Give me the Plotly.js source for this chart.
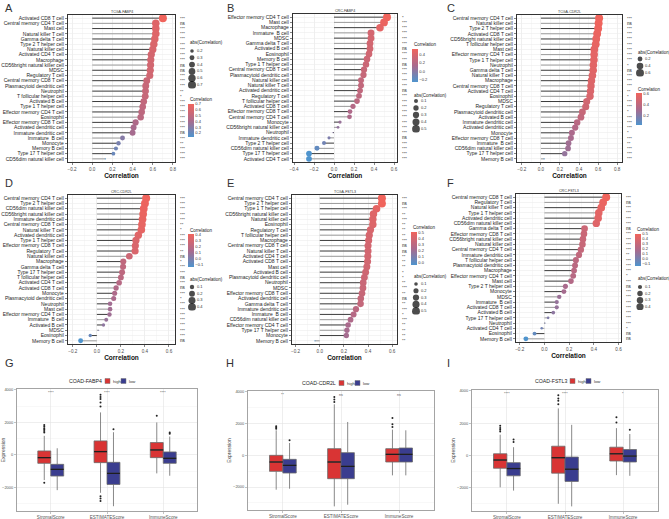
<!DOCTYPE html>
<html>
<head>
<meta charset="utf-8">
<script src="https://cdn.plot.ly/plotly-3.0.1.min.js"></script>
<style>
html,body{margin:0;padding:0;background:#fff;}
#chart{width:669px;height:519px;}
</style>
</head>
<body>
<div id="chart"></div>
<script>
// ---------- Immune-cell correlation data (lollipop panels) ----------
const aCells = ["Activated CD8 T cell","Central memory CD4 T cell","Mast cell","Natural killer T cell","Gamma delta T cell","Type 2 T helper cell","Natural killer cell","Activated CD4 T cell","Macrophage","CD56bright natural killer cell","MDSC","Regulatory T cell","Central memory CD8 T cell","Plasmacytoid dendritic cell","Neutrophil","T follicular helper cell","Activated B cell","Type 1 T helper cell","Effector memory CD4 T cell","Eosinophil","Effector memory CD8 T cell","Activated dendritic cell","Immature dendritic cell","Immature  B cell","Monocyte","Memory B cell","Type 17 T helper cell","CD56dim natural killer cell"];
const aCor = [0.70,0.63,0.63,0.63,0.62,0.61,0.60,0.585,0.58,0.578,0.575,0.57,0.54,0.53,0.528,0.525,0.51,0.50,0.49,0.48,0.43,0.41,0.40,0.30,0.26,0.235,0.21,0.13];
const aSig = ["***","ns","***","***","***","***","***","***","***","ns","ns","***","***","***","**","*","***","***","***","***","***","***","ns","***","**","***","***","***"];

const bCells = ["Effector memory CD4 T cell","Mast cell","Macrophage","Immature  B cell","MDSC","Gamma delta T cell","Activated B cell","Eosinophil","Memory B cell","Type 1 T helper cell","Central memory CD8 T cell","Plasmacytoid dendritic cell","Natural killer cell","Natural killer T cell","Activated dendritic cell","Regulatory T cell","T follicular helper cell","Activated CD8 T cell","Effector memory CD8 T cell","Central memory CD4 T cell","Monocyte","CD56bright natural killer cell","Neutrophil","Immature dendritic cell","Type 2 T helper cell","CD56dim natural killer cell","Type 17 T helper cell","Activated CD4 T cell"];
const bCor = [0.53,0.50,0.46,0.37,0.37,0.36,0.36,0.35,0.33,0.32,0.30,0.295,0.27,0.27,0.26,0.25,0.23,0.19,0.16,0.155,0.06,0.04,-0.01,-0.05,-0.10,-0.17,-0.25,-0.25];
const bSig = ["*","***","***","***","***","***","ns","***","***","ns","***","***","***","***","ns","***","***","***","***","***","***","***","***","ns","***","***","***","***"];

const cCells = ["Central memory CD4 T cell","Natural killer cell","Type 2 T helper cell","Activated CD8 T cell","CD56bright natural killer cell","T follicular helper cell","Mast cell","Effector memory CD4 T cell","Type 1 T helper cell","Neutrophil","Gamma delta T cell","Natural killer T cell","Macrophage","Central memory CD8 T cell","Activated CD4 T cell","Eosinophil","MDSC","Regulatory T cell","Plasmacytoid dendritic cell","Activated B cell","Immature dendritic cell","Activated dendritic cell","Monocyte","Effector memory CD8 T cell","Immature  B cell","CD56dim natural killer cell","Type 17 T helper cell","Memory B cell"];
const cCor = [0.61,0.605,0.60,0.59,0.58,0.575,0.56,0.558,0.556,0.55,0.548,0.54,0.53,0.525,0.52,0.515,0.48,0.47,0.435,0.42,0.38,0.36,0.325,0.315,0.29,0.285,0.25,0.035];
const cSig = ["***","ns","***","***","***","***","***","***","***","*","ns","***","***","***","**","*","***","***","*","***","***","***","*","***","**","***","***","***"];

const dCells = ["Central memory CD4 T cell","Type 2 T helper cell","CD56dim natural killer cell","CD56bright natural killer cell","Immature dendritic cell","Central memory CD8 T cell","Natural killer T cell","Activated dendritic cell","Type 1 T helper cell","Effector memory CD8 T cell","Regulatory T cell","Natural killer cell","Macrophage","Gamma delta T cell","Type 17 T helper cell","T follicular helper cell","Activated CD4 T cell","Activated CD8 T cell","Monocyte","Plasmacytoid dendritic cell","Neutrophil","Mast cell","Effector memory CD4 T cell","Immature  B cell","Activated B cell","MDSC","Eosinophil","Memory B cell"];
const dCor = [0.41,0.40,0.39,0.385,0.38,0.375,0.37,0.345,0.325,0.32,0.318,0.27,0.22,0.218,0.21,0.20,0.185,0.16,0.148,0.14,0.11,0.11,0.105,0.078,0.055,0.015,-0.055,-0.135];
const dSig = ["***","***","***","***","***","**","*","***","***","***","**","ns","*","***","***","ns","***","ns","***","*","***","***","***","***","***","***","***","ns"];

const eCells = ["Central memory CD4 T cell","Type 2 T helper cell","Type 1 T helper cell","CD56bright natural killer cell","Natural killer cell","Eosinophil","Regulatory T cell","T follicular helper cell","Macrophage","Central memory CD8 T cell","Natural killer T cell","Activated CD4 T cell","Activated CD8 T cell","Mast cell","Activated B cell","Plasmacytoid dendritic cell","Neutrophil","MDSC","Effector memory CD8 T cell","Activated dendritic cell","Gamma delta T cell","Immature dendritic cell","Immature  B cell","CD56dim natural killer cell","Effector memory CD4 T cell","Type 17 T helper cell","Monocyte","Memory B cell"];
const eCor = [0.515,0.515,0.47,0.445,0.44,0.44,0.42,0.41,0.405,0.40,0.40,0.398,0.396,0.39,0.38,0.37,0.36,0.358,0.35,0.34,0.338,0.30,0.28,0.255,0.235,0.225,0.22,-0.04];
const eSig = ["***","ns","***","**","***","**","**","**","***","ns","ns","**","**","**","*","*","**","***","**","ns","**","***","*","***","**","**","**","**"];

const fCells = ["Central memory CD8 T cell","Regulatory T cell","Natural killer T cell","Type 1 T helper cell","Activated dendritic cell","CD56dim natural killer cell","Gamma delta T cell","Effector memory CD8 T cell","CD56bright natural killer cell","Natural killer cell","Central memory CD4 T cell","Immature dendritic cell","T follicular helper cell","Plasmacytoid dendritic cell","Macrophage","Effector memory CD4 T cell","Mast cell","Type 2 T helper cell","Monocyte","MDSC","Immature  B cell","Activated CD8 T cell","Activated B cell","Type 17 T helper cell","Neutrophil","Activated CD4 T cell","Eosinophil","Memory B cell"];
const fCor = [0.50,0.475,0.46,0.44,0.435,0.42,0.325,0.32,0.312,0.308,0.295,0.28,0.255,0.248,0.24,0.233,0.215,0.17,0.158,0.12,0.10,0.10,0.072,0.03,0.005,-0.022,-0.08,-0.15];
const fSig = ["***","ns","***","***","***","***","ns","***","***","***","***","**","***","***","***","*","***","ns","***","***","***","***","***","***","***","*","ns","ns"];

// size-legend breaks for abs(Correlation)
const aSizeBreaks = [0.2,0.3,0.4,0.5,0.6,0.7];
const bSizeBreaks = [0.1,0.2,0.3,0.4,0.5];
const cSizeBreaks = [0.2,0.4,0.6];
const dSizeBreaks = [0.1,0.2,0.3,0.4];
const eSizeBreaks = [0.1,0.2,0.3,0.4,0.5];
const fSizeBreaks = [0.1,0.2,0.3,0.4];

// ---------- ESTIMATE score boxplots (high vs low expression) ----------
const scoreNames = ["StromalScore","ESTIMATEScore","ImmuneScore"];
// FABP4
const gHigh = {q1:[-515,-474,-165], med:[-165,206,309], q3:[247,866,763], lo:[-1546,-2330,-1134], hi:[1175,2619,2000]};
const gLow  = {q1:[-1300,-1815,-515], med:[-887,-1134,-206], q3:[-577,-454,186], lo:[-2165,-3155,-1278], hi:[412,1400,1134]};
const gHighOut = [[1380,1480,1560,1650,1750,1850,-1710],[2990,3230,3440,3570,3710,-2540,-2680,-2830],[2410]];
const gLowOut  = [[],[1590],[1300,1380]];
const gSig = ["****","****","****"];
// CDR2L
const hHigh = {q1:[-1010,-1474,-421], med:[-421,-421,63], q3:[0,421,421], lo:[-2168,-3221,-1263], hi:[1579,3221,1621]};
const hLow  = {q1:[-1116,-1474,-421], med:[-632,-695,63], q3:[-253,168,463], lo:[-2105,-3116,-1263], hi:[779,2105,1579]};
const hHighOut = [[1680,1760,1830],[3370,3520,3680],[1790,1960,2360]];
const hLowOut  = [[950],[],[]];
const hSig = ["**","ns","ns"];
// FSTL3
const iHigh = {q1:[-796,-1102,-347], med:[-286,-143,102], q3:[102,571,510], lo:[-1980,-3000,-1224], hi:[1286,2918,1694]};
const iLow  = {q1:[-1265,-1612,-408], med:[-816,-857,-41], q3:[-449,-102,367], lo:[-2184,-3163,-1265], hi:[510,1898,1327]};
const iHighOut = [[1490,1600,1700,1840],[3180,3390,3530,3740],[2040,2370]];
const iLowOut  = [[840,980],[],[1590]];
const iSig = ["****","****","*"];

// ---------- drawing ----------
const W = 669, H = 519;
const fx = p => p / W;
const fy = p => 1 - p / H;
const FONT = "Liberation Sans, Arial, sans-serif";
const corScale = [[0,'#4f94cd'],[0.5,'#ab6a8c'],[1,'#f0645c']];

const lolli = [
  {letter:'A', lx:7,   ly:8,   title:'TCGA-FABP4', cells:aCells, cor:aCor, sig:aSig, breaks:aSizeBreaks,
   box:[68,175,15,162], range:[-0.24,0.82], cb:{left:188,top:104,len:33,dtick:0.1,titleY:100}, sl:{x:192,titleY:43,first:51,step:6.8}},
  {letter:'B', lx:229, ly:8,   title:'CRC-FABP4', cells:bCells, cor:bCor, sig:bSig, breaks:bSizeBreaks,
   box:[293,397,14,162], range:[-0.41,0.63], cb:{left:412,top:49,len:33,dtick:0.2,titleY:44}, sl:{x:416,titleY:95,first:101,step:7}},
  {letter:'C', lx:449, ly:8,   title:'TCGA-CDR2L', cells:cCells, cor:cCor, sig:cSig, breaks:cSizeBreaks,
   box:[517,622,15,162], range:[-0.25,0.85], cb:{left:636,top:93,len:32,dtick:0.2,titleY:89}, sl:{x:640,titleY:52,first:59,step:7}},
  {letter:'D', lx:7,   ly:183, title:'CRC-CDR2L', cells:dCells, cor:dCor, sig:dSig, breaks:dSizeBreaks,
   box:[68,175,195,344], range:[-0.24,0.65], cb:{left:188,top:234,len:33,dtick:0.1,titleY:230}, sl:{x:192,titleY:279,first:287,step:6.7}},
  {letter:'E', lx:229, ly:183, title:'TCGA-FSTL3', cells:eCells, cor:eCor, sig:eSig, breaks:eSizeBreaks,
   box:[292,397,195,344], range:[-0.23,0.64], cb:{left:411,top:232,len:33,dtick:0.1,titleY:227}, sl:{x:416,titleY:276,first:284,step:6.8}},
  {letter:'F', lx:449, ly:183, title:'CRC-FSTL3', cells:fCells, cor:fCor, sig:fSig, breaks:fSizeBreaks,
   box:[516,621,194,342], range:[-0.23,0.62], cb:{left:635,top:234,len:32,dtick:0.1,titleY:229}, sl:{x:640,titleY:278,first:287,step:6.6}}
];

const boxes = [
  {letter:'G', lx:7,   ly:363, gene:'COAD-FABP4', high:gHigh, low:gLow, highOut:gHighOut, lowOut:gLowOut, sig:gSig,
   box:[17,197,389,511], legend:{key:105,y:381}},
  {letter:'H', lx:228, ly:363, gene:'COAD-CDR2L', high:hHigh, low:hLow, highOut:hHighOut, lowOut:hLowOut, sig:hSig,
   box:[248,434,391,510], legend:{key:339,y:383}},
  {letter:'I', lx:449, ly:363, gene:'COAD-FSTL3', high:iHigh, low:iLow, highOut:iHighOut, lowOut:iLowOut, sig:iSig,
   box:[472,658,390,511], legend:{key:570,y:381}}
];

const traces = [];
const layout = {
  width: W, height: H,
  margin: {l:0, r:0, t:0, b:0},
  paper_bgcolor: '#fff', plot_bgcolor: '#fff',
  font: {family: FONT, color: '#222'},
  showlegend: false,
  annotations: [], shapes: []
};

const axName = (kind, n) => kind + 'axis' + (n === 1 ? '' : n);
const axRef  = (kind, n) => kind + (n === 1 ? '' : n);
const dotSize = (v, lo, hi) => 1.2 + 6.8 * Math.sqrt(Math.max(0, (v - lo) / (hi - lo)));

function note(text, x, y, size, opts) {
  layout.annotations.push(Object.assign({
    text: text, x: x, y: y, xref: 'paper', yref: 'paper',
    showarrow: false, xanchor: 'left', yanchor: 'middle',
    font: {size: size, color: '#222', family: FONT}
  }, opts || {}));
}

// ---- lollipop panels ----
lolli.forEach((p, k) => {
  const n = k + 1;
  const xr = axRef('x', n), yr = axRef('y', n);
  const [l, r, t, b] = p.box;
  const rows = p.cells.map((_, i) => i);
  const absVals = p.cor.map(Math.abs);
  const aLo = Math.min(...absVals), aHi = Math.max(...absVals);

  layout[axName('x', n)] = {
    domain: [fx(l), fx(r)], range: p.range, anchor: yr,
    tick0: 0, dtick: 0.2, tickformat: '.1f',
    showgrid: true, gridcolor: '#e4e4e4', gridwidth: 0.6,
    minor: {dtick: 0.1, showgrid: true, gridcolor: '#f2f2f2', gridwidth: 0.5},
    zeroline: false, showline: true, mirror: true, linecolor: '#333', linewidth: 1.2,
    ticks: 'outside', ticklen: 2, tickwidth: 0.6, tickcolor: '#333',
    tickfont: {size: 4.6, color: '#4d4d4d'},
    title: {text: 'Correlation', font: {size: 6.5, color: '#111', weight: 'bold'}, standoff: 2},
    fixedrange: true
  };
  layout[axName('y', n)] = {
    domain: [fy(b), fy(t)], range: [p.cells.length - 0.4, -0.6], anchor: xr,
    tickmode: 'array', tickvals: rows, ticktext: p.cells,
    showgrid: true, gridcolor: '#ececec', gridwidth: 0.6,
    zeroline: false, showline: true, mirror: true, linecolor: '#333', linewidth: 1.2,
    ticks: 'outside', ticklen: 2, tickwidth: 0.6, tickcolor: '#333',
    tickfont: {size: 5, color: '#262626'},
    fixedrange: true
  };

  // stems from zero to each correlation, alternating grey tones
  [0, 1].forEach(parity => {
    const xs = [], ys = [];
    p.cor.forEach((v, i) => {
      if (i % 2 !== parity) return;
      xs.push(0, v, null); ys.push(i, i, null);
    });
    traces.push({type: 'scatter', mode: 'lines', x: xs, y: ys, xaxis: xr, yaxis: yr,
      line: {color: parity === 0 ? '#3c3c3c' : '#9a9a9a', width: 1}, hoverinfo: 'skip'});
  });

  // heads coloured by correlation, sized by |correlation|
  traces.push({
    type: 'scatter', mode: 'markers', x: p.cor, y: rows, xaxis: xr, yaxis: yr,
    hoverinfo: 'skip',
    marker: {
      color: p.cor, colorscale: corScale,
      cmin: Math.min(...p.cor), cmax: Math.max(...p.cor),
      size: absVals.map(v => dotSize(v, aLo, aHi)), line: {width: 0}, opacity: 1,
      showscale: true,
      colorbar: {
        x: fx(p.cb.left), xanchor: 'left', xpad: 0,
        y: fy(p.cb.top), yanchor: 'top', ypad: 0,
        lenmode: 'pixels', len: p.cb.len, thickness: 6,
        outlinewidth: 0, ticks: '', tick0: 0, dtick: p.cb.dtick, tickformat: '.1f',
        tickfont: {size: 4, color: '#333', family: FONT}, title: {text: ''}
      }
    }
  });

  // size legend in its own small axes
  const m = n + 9;
  const sx = axRef('x', m), sy = axRef('y', m);
  const nb = p.breaks.length;
  layout[axName('x', m)] = {domain: [fx(p.sl.x - 6), fx(p.sl.x + 20)], range: [-6, 20], anchor: sy, visible: false, fixedrange: true};
  layout[axName('y', m)] = {domain: [fy(p.sl.first + (nb - 0.5) * p.sl.step), fy(p.sl.first - 0.5 * p.sl.step)],
    range: [nb - 0.5, -0.5], anchor: sx, visible: false, fixedrange: true};
  traces.push({type: 'scatter', mode: 'markers', xaxis: sx, yaxis: sy, hoverinfo: 'skip',
    x: p.breaks.map(() => 0), y: p.breaks.map((_, i) => i),
    marker: {color: '#000', size: p.breaks.map(v => dotSize(v, aLo, aHi)), line: {width: 0}}});
  traces.push({type: 'scatter', mode: 'text', xaxis: sx, yaxis: sy, hoverinfo: 'skip',
    x: p.breaks.map(() => 5), y: p.breaks.map((_, i) => i),
    text: p.breaks.map(v => v.toFixed(1)), textposition: 'middle right',
    textfont: {size: 4, color: '#333', family: FONT}});

  // significance stars to the right of each row
  p.sig.forEach((s, i) => {
    layout.annotations.push({text: s, x: fx(r + 2.5), xref: 'paper', y: i, yref: yr,
      xanchor: 'left', yanchor: 'middle', showarrow: false,
      font: {size: s === 'ns' ? 4.6 : 4.2, color: '#222', family: FONT}});
  });

  note(p.title, fx((l + r) / 2), fy(t - 3), 3.6, {xanchor: 'center', font: {size: 3.6, color: '#333', family: FONT}});
  note('Correlation', fx(p.cb.left), fy(p.cb.titleY), 4.5);
  note('abs(Correlation)', fx(p.sl.x - 4), fy(p.sl.titleY), 4.5);
  note(p.letter, fx(p.lx - 4), fy(p.ly), 11, {font: {size: 11, color: '#333', family: FONT}});
});

// ---- boxplot panels ----
const OFF = 0.115, BW = 0.23;
const RED = '#d93434', BLUE = '#3a3d8f';
boxes.forEach((p, k) => {
  const n = k + 7;
  const xr = axRef('x', n), yr = axRef('y', n);
  const [l, r, t, b] = p.box;
  const cats = scoreNames.map((_, i) => i + 1);

  layout[axName('x', n)] = {
    domain: [fx(l), fx(r)], range: [0.4, 3.6], anchor: yr,
    tickmode: 'array', tickvals: cats, ticktext: scoreNames,
    showgrid: true, gridcolor: '#e3e3e3', gridwidth: 0.6, zeroline: false,
    showline: true, mirror: true, linecolor: '#9a9a9a', linewidth: 0.9,
    ticks: 'outside', ticklen: 2, tickwidth: 0.5, tickcolor: '#888',
    tickfont: {size: 4.6, color: '#555'}, fixedrange: true
  };
  layout[axName('y', n)] = {
    domain: [fy(b), fy(t)], range: [-3450, 4060], anchor: xr,
    tickmode: 'array', tickvals: [-2000, 0, 2000, 4000],
    showgrid: true, gridcolor: '#e3e3e3', gridwidth: 0.6,
    minor: {tick0: 1000, dtick: 2000, showgrid: true, gridcolor: '#f1f1f1', gridwidth: 0.5},
    zeroline: false, showline: true, mirror: true, linecolor: '#9a9a9a', linewidth: 0.9,
    ticks: 'outside', ticklen: 2, tickwidth: 0.5, tickcolor: '#888',
    tickfont: {size: 4, color: '#555'},
    title: {text: 'Expression', font: {size: 5, color: '#444'}, standoff: 1},
    fixedrange: true
  };

  [[p.high, p.highOut, -OFF, RED], [p.low, p.lowOut, OFF, BLUE]].forEach(([g, outs, off, col]) => {
    const pos = cats.map(c => c + off);
    traces.push({type: 'box', xaxis: xr, yaxis: yr, x: pos,
      q1: g.q1, median: g.med, q3: g.q3, lowerfence: g.lo, upperfence: g.hi,
      width: BW, fillcolor: col, line: {color: '#6b6b6b', width: 0.8}, whiskerwidth: 0,
      boxpoints: false, hoverinfo: 'skip'});
    // darker median bar
    const mx = [], my = [];
    pos.forEach((c, i) => { mx.push(c - BW / 2, c + BW / 2, null); my.push(g.med[i], g.med[i], null); });
    traces.push({type: 'scatter', mode: 'lines', x: mx, y: my, xaxis: xr, yaxis: yr,
      line: {color: '#1e1e1e', width: 1.3}, hoverinfo: 'skip'});
    // outliers
    const ox = [], oy = [];
    outs.forEach((arr, i) => arr.forEach(v => { ox.push(pos[i]); oy.push(v); }));
    traces.push({type: 'scatter', mode: 'markers', x: ox, y: oy, xaxis: xr, yaxis: yr,
      marker: {color: '#222', size: 2}, hoverinfo: 'skip'});
  });

  // test labels above each score
  p.sig.forEach((s, i) => {
    layout.annotations.push({text: s, x: cats[i], xref: xr, y: fy(t + 4), yref: 'paper',
      xanchor: 'center', yanchor: 'middle', showarrow: false,
      font: {size: 3.6, color: '#555', family: FONT}});
  });

  // group legend: gene label, then high / low keys
  const L = p.legend;
  note(p.gene, fx(L.key - 1.5), fy(L.y), 5.2, {xanchor: 'right', font: {size: 5.2, color: '#222', family: FONT}});
  [[L.key, RED, 'high'], [L.key + 16, BLUE, 'low']].forEach(([kx, col, lab]) => {
    layout.shapes.push({type: 'rect', xref: 'paper', yref: 'paper',
      x0: fx(kx), x1: fx(kx + 5), y0: fy(L.y + 2.5), y1: fy(L.y - 2.5),
      fillcolor: col, line: {color: '#777', width: 0.5}});
    note(lab, fx(kx + 6), fy(L.y), 4.2, {font: {size: 4.2, color: '#333', family: FONT}});
  });

  note(p.letter, fx(p.lx - 4), fy(p.ly), 11, {font: {size: 11, color: '#333', family: FONT}});
});

Plotly.newPlot('chart', traces, layout, {staticPlot: true, displayModeBar: false});
</script>
</body>
</html>
